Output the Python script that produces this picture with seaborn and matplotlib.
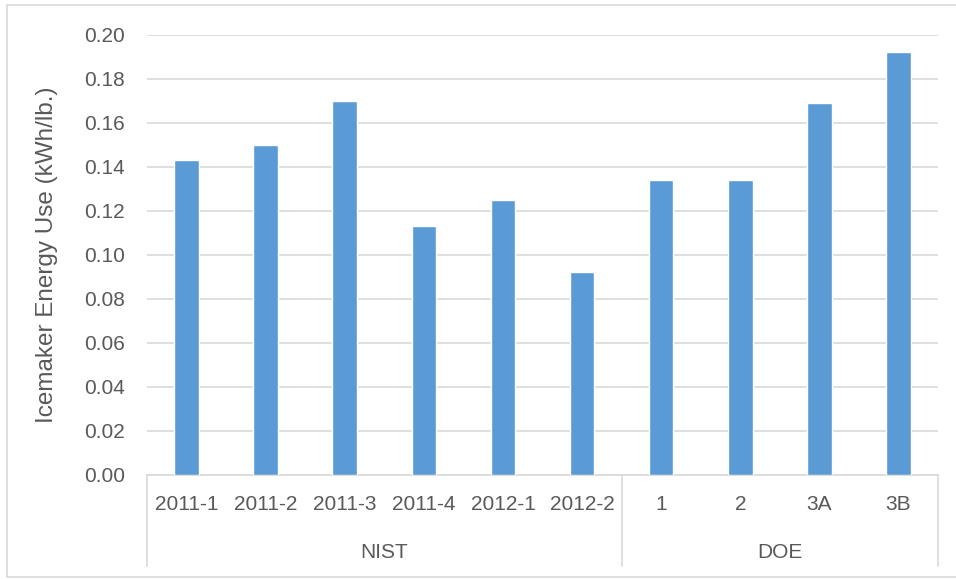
import matplotlib
matplotlib.use('Agg')
import matplotlib.pyplot as plt
import matplotlib.transforms as mtransforms
import pandas as pd
import seaborn as sns

# data
samples = ['2011-1', '2011-2', '2011-3', '2011-4', '2012-1', '2012-2', '1', '2', '3A', '3B']
sources = ['NIST'] * 6 + ['DOE'] * 4
energy_use = [0.143, 0.150, 0.170, 0.113, 0.125, 0.092, 0.134, 0.134, 0.169, 0.192]
y_ticks = [0.00, 0.02, 0.04, 0.06, 0.08, 0.10, 0.12, 0.14, 0.16, 0.18, 0.20]

df = pd.DataFrame({'Sample': samples, 'Source': sources, 'Energy': energy_use})

sns.set_style('white')
plt.rcParams['font.family'] = ['Liberation Sans', 'DejaVu Sans']

text_col = '#595959'
grid_col = '#D9D9D9'

fig = plt.figure(figsize=(9.56, 5.79), dpi=100)
ax = fig.add_axes([147 / 956, 104 / 579, 791 / 956, 440.3 / 579])

sns.barplot(data=df, x='Sample', y='Energy', color='#5B9BD5', width=0.31,
            saturation=1, ax=ax, zorder=3)

ax.set_ylim(0, 0.20)
ax.set_xlim(-0.5, len(samples) - 0.5)
ax.set_yticks(y_ticks)
ax.set_yticklabels([f'{t:.2f}' for t in y_ticks], fontsize=15, color=text_col)
ax.tick_params(axis='y', length=0, pad=16)
ax.grid(axis='y', color=grid_col, linewidth=1.2, zorder=0)
ax.set_axisbelow(True)
for s in ['left', 'right', 'top']:
    ax.spines[s].set_visible(False)
ax.spines['bottom'].set_color(grid_col)
ax.spines['bottom'].set_linewidth(1.2)

# two-level category axis
ax.set_xticks(range(len(samples)))
ax.set_xticklabels([])
ax.tick_params(axis='x', length=0)
ax.set_xlabel('')
trans = mtransforms.blended_transform_factory(ax.transData, ax.transAxes)
for i, lab in enumerate(samples):
    ax.text(i, -0.068, lab, transform=trans, ha='center', va='center',
            fontsize=15, color=text_col)

group_order = ['NIST', 'DOE']
bounds = [-0.5]
for g in group_order:
    idx = [i for i, s in enumerate(sources) if s == g]
    ax.text(sum(idx) / len(idx), -0.175, g, transform=trans, ha='center',
            va='center', fontsize=15, color=text_col)
    bounds.append(max(idx) + 0.5)
for b in bounds:
    ax.plot([b, b], [0, -0.207], transform=trans, color=grid_col,
            linewidth=1.2, clip_on=False)

ax.set_ylabel('Icemaker Energy Use (kWh/lb.)', fontsize=17.5, color=text_col)
ax.yaxis.set_label_coords(-0.1125, 0.5)

# chart border
fig.patches.append(plt.Rectangle((7 / 956, 2 / 579), 1.0, 572 / 579,
                                 transform=fig.transFigure, fill=False,
                                 edgecolor=grid_col, linewidth=1.2))

fig.savefig('out.png', dpi=100)
